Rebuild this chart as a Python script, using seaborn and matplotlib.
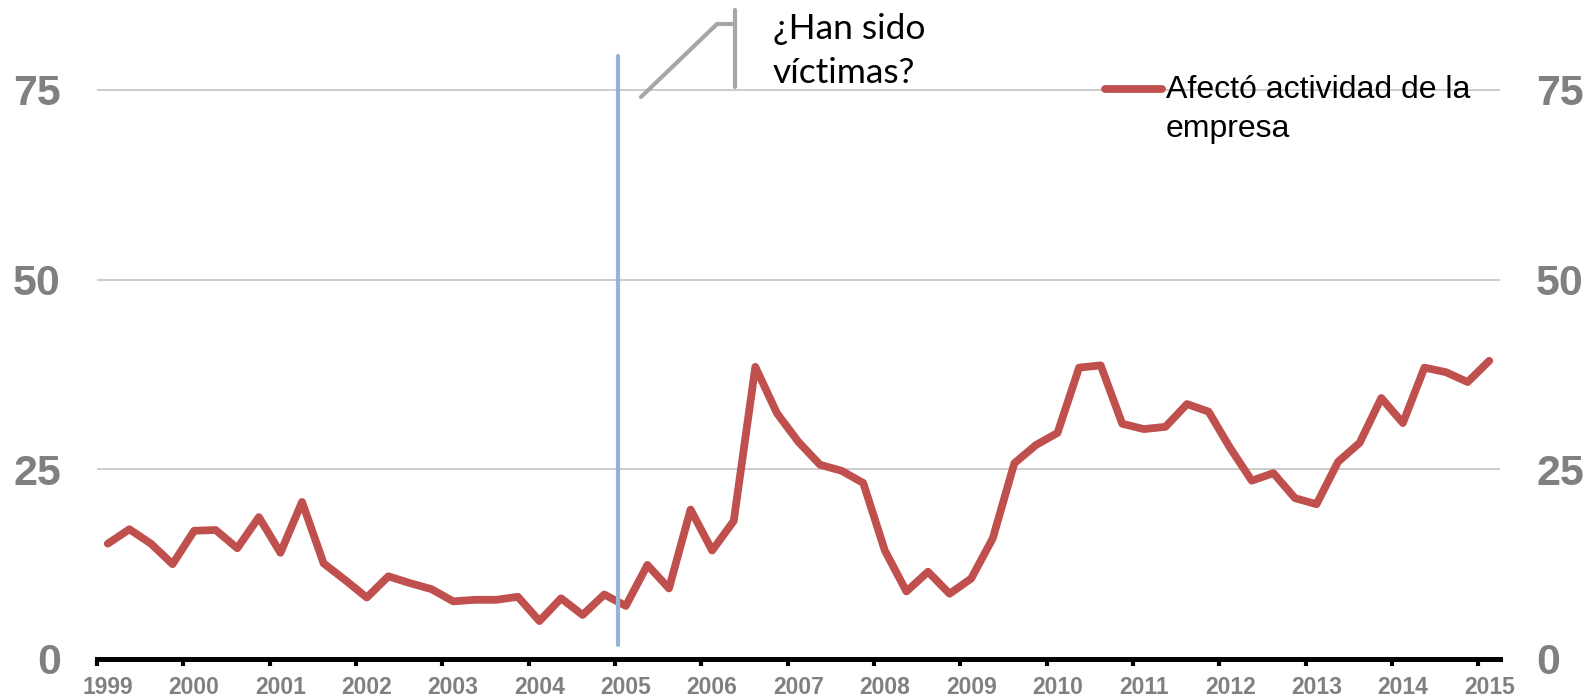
import numpy as np
import pandas as pd
import matplotlib
matplotlib.use("Agg")
import matplotlib.pyplot as plt
from matplotlib.lines import Line2D
import seaborn as sns

# quarterly series, 1999Q1 .. 2015Q1
years = list(range(1999, 2016))
afecto = [15.2, 17.1, 15.2, 12.5, 16.9, 17.0, 14.6, 18.7, 14.0, 20.7,
          12.6, 10.4, 8.1, 10.9, 10.0, 9.2, 7.6, 7.8, 7.8, 8.2,
          5.0, 8.0, 5.8, 8.5, 7.0, 12.4, 9.3, 19.7, 14.3, 18.2,
          38.5, 32.4, 28.6, 25.6, 24.8, 23.2, 14.3, 8.9, 11.5, 8.6,
          10.6, 15.9, 25.8, 28.2, 29.8, 38.4, 38.7, 31.0, 30.3, 30.6,
          33.6, 32.6, 27.8, 23.5, 24.5, 21.2, 20.4, 26.0, 28.5, 34.4,
          31.1, 38.4, 37.8, 36.5, 39.3]
y_ticks = [0, 25, 50, 75]
marker_x = 23.65  # vertical marker just after the 2005 tick

df = pd.DataFrame({"q": np.arange(len(afecto)), "valor": afecto})

sns.set_theme(style="white")
plt.rcParams["font.family"] = ["Liberation Sans", "DejaVu Sans"]

W, H = 1589, 698
fig = plt.figure(figsize=(W / 100, H / 100), dpi=100)
ax = fig.add_axes([97 / W, 1 - 659 / H, (1500 - 97) / W, (659 - 52) / H])

sns.lineplot(data=df, x="q", y="valor", ax=ax, color="#C0504D", lw=5.6,
             solid_joinstyle="round", solid_capstyle="round", zorder=3)

ax.axvline(marker_x, ymin=1.8 / 80, ymax=79.5 / 80, color="#95B3D7", lw=3,
           clip_on=False, zorder=4)

ax.set_xlim(-0.5, len(afecto) - 0.5)
ax.set_ylim(0, 80)
ax.set_xlabel("")
ax.set_ylabel("")

# year boundaries as ticks, year labels under first quarter
ax.set_xticks([4 * k - 0.5 for k in range(len(years))])
ax.set_xticklabels([])
ax.set_xticks([4 * k for k in range(len(years))], minor=True)
ax.set_xticklabels([str(y) for y in years], minor=True)
ax.tick_params(axis="x", which="major", direction="out", length=5, width=3,
               color="black", bottom=True)
ax.tick_params(axis="x", which="minor", length=0, pad=12, labelsize=16.5,
               labelcolor="#808080")
for t in ax.get_xticklabels(minor=True):
    t.set_fontweight("bold")

ax.set_yticks(y_ticks)
ax.tick_params(axis="y", length=0, pad=26, labelsize=31, labelcolor="#808080")
for t in ax.get_yticklabels():
    t.set_fontweight("bold")

ax.grid(False)
for v in y_ticks[1:]:
    ax.axhline(v, color="#BFBFBF", lw=1.1, zorder=1)

for s in ["top", "left", "right"]:
    ax.spines[s].set_visible(False)
ax.spines["bottom"].set_color("black")
ax.spines["bottom"].set_linewidth(3.6)

ax2 = ax.twinx()
ax2.set_ylim(ax.get_ylim())
ax2.set_yticks(y_ticks)
ax2.tick_params(axis="y", length=0, pad=26, labelsize=31, labelcolor="#808080")
for t in ax2.get_yticklabels():
    t.set_fontweight("bold")
for s in ax2.spines.values():
    s.set_visible(False)
ax2.grid(False)

# legend drawn by hand so the handle sits on the first text line
fig.add_artist(Line2D([1105 / W, 1162 / W], [1 - 89 / H, 1 - 89 / H],
                      color="#C0504D", lw=5.6, solid_capstyle="round"))
fig.text(1166 / W, 1 - 75 / H, "Afectó actividad de la\nempresa", fontsize=23,
         color="black", va="top", ha="left", linespacing=1.38)

# callout
gray = "#A6A6A6"
fig.add_artist(Line2D([641 / W, 717 / W, 735 / W],
                      [1 - 97 / H, 1 - 24 / H, 1 - 24 / H], color=gray, lw=3))
fig.add_artist(Line2D([735 / W, 735 / W], [1 - 10 / H, 1 - 87 / H],
                      color=gray, lw=3))
fig.text(773 / W, 1 - 13 / H, "¿Han sido\nvíctimas?", fontsize=25.5,
         family=["Lato", "DejaVu Sans"], color="black", va="top", ha="left",
         linespacing=1.45)

fig.savefig("out.png", dpi=100)
